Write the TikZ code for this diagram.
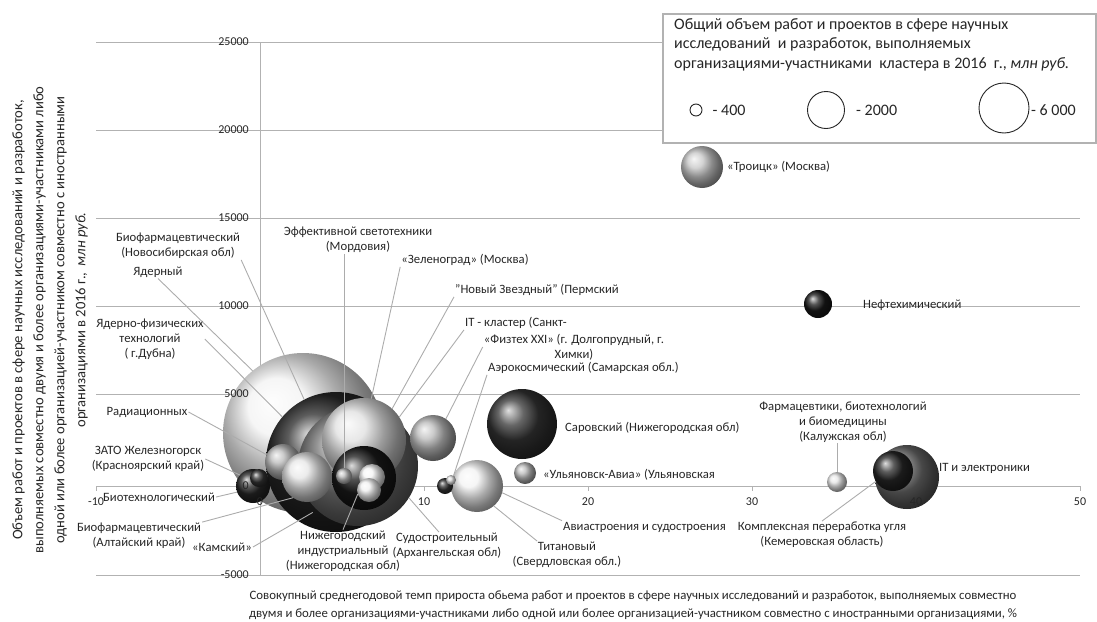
\documentclass[tikz,border=0pt]{standalone}
\usepackage{fontspec}
\setmainfont{Carlito}
\usetikzlibrary{positioning}

\begin{document}
\begin{tikzpicture}[x=1pt,y=-1pt,
    grid/.style={draw=gray!60,line width=1pt},
    bub/.style={circle,inner sep=0pt,outer sep=0pt,minimum size=#1pt},
    leader/.style={draw=gray!65,line width=0.9pt},
    lbl/.style={font=\fontsize{12.7}{14.8}\selectfont,text=black!85,inner sep=1pt,align=center},
    tick/.style={font=\fontsize{12}{14}\selectfont,text=black!85,inner sep=1pt},
    legcirc/.style={circle,draw=black!85,line width=0.9pt,inner sep=0pt,minimum size=#1pt},
    legtxt/.style={font=\fontsize{16}{19.5}\selectfont,text=black!85,inner sep=0pt,align=left}]
    \useasboundingbox (0,0) rectangle (1097,621);

    % grid and axes
    \foreach \yy in {42,130,218,306,394,575}
        \draw[grid] (96,\yy) -- (1080,\yy);
    \draw[grid] (96,486) -- (1080,486);
    \draw[grid] (260,42) -- (260,575);
    \foreach \xx in {96,260,...,1080}
        \draw[grid] (\xx,486) -- (\xx,491);

    % bubbles
    \node[bub=160,ball color=gray!10] (yadern) at (303,433) {};
    \node[bub=140,ball color=black!85] (biofnsk) at (336,462) {};
    \node[bub=120,ball color=black!55] (nizh) at (358,466) {};
    \node[bub=84,ball color=gray!25] (zel) at (364,440) {};
    \node[bub=64,ball color=black!90] (nzv) at (364,478) {};
    \node[bub=36,ball color=gray!55] (rad) at (283,462) {};
    \node[bub=50,ball color=gray!20] (altai) at (307,477) {};
    \node[bub=16,ball color=gray!50] (svet) at (344,476) {};
    \node[bub=26,ball color=gray!8] (sudo) at (372,477) {};
    \node[bub=24,ball color=gray!12] (itspb) at (369,490) {};
    \node[bub=46,ball color=gray!55] (fiz) at (433,438) {};
    \node[bub=34,ball color=black!85] (zato) at (253,486) {};
    \node[bub=18,ball color=black!80] (biotech) at (259,478) {};
    \node[bub=52,ball color=gray!10] (avia) at (477,486) {};
    \node[bub=16,ball color=black!80] (titan) at (445,486) {};
    \node[bub=10,ball color=gray!30] (aero) at (451,480) {};
    \node[bub=70,ball color=black!80] (sarov) at (522,424) {};
    \node[bub=22,ball color=gray!55] (ulyan) at (525,473) {};
    \node[bub=20,ball color=gray!20] (farm) at (837,482) {};
    \node[bub=64,ball color=black!60] (itel) at (907,477) {};
    \node[bub=40,ball color=black!85] (kompl) at (893,471) {};
    \node[bub=42,ball color=gray!45] (troick) at (702,167) {};
    \node[bub=28,ball color=black!90] (neft) at (818,304) {};

    % tick labels
    \foreach \yy/\val in {42/25000,130/20000,218/15000,306/10000,394/5000,486/0,575/-5000}
        \node[tick,anchor=east] (yt\val) at (250,\yy) {\val};
    \foreach \xx/\val in {96/-10,260/0,424/10,588/20,752/30,916/40,1080/50}
        \node[tick] (xt\val) at (\xx,502) {\val};

    % labels
    \node[lbl,anchor=west] (lTroick) at (726,167) {«Троицк» (Москва)};
    \node[lbl,anchor=west] (lNeft) at (862,305) {Нефтехимический};
    \node[lbl] (lBiofNsk) at (178,246) {Биофармацевтический\\(Новосибирская обл)};
    \node[lbl] (lYad) at (158,272) {Ядерный};
    \node[lbl] (lDubna) at (150,339) {Ядерно-физических\\технологий\\( г.Дубна)};
    \node[lbl] (lRad) at (147,412) {Радиационных};
    \node[lbl] (lZato) at (148,459) {ЗАТО Железногорск\\(Красноярский край)};
    \node[lbl] (lBiotech) at (159,497) {Биотехнологический};
    \node[lbl] (lAltai) at (139,536) {Биофармацевтический\\(Алтайский край)};
    \node[lbl] (lKam) at (222,547) {«Камский»};
    \node[lbl] (lSvet) at (358,240) {Эффективной светотехники\\(Мордовия)};
    \node[lbl] (lZel) at (465,260) {«Зеленоград» (Москва)};
    \node[lbl,anchor=west] (lNzv) at (454,290) {"Новый Звездный" (Пермский};
    \node[lbl,anchor=west] (lItSpb) at (464,323) {IT - кластер (Санкт-};
    \node[lbl] (lFiz) at (574,347) {«Физтех XXI» (г. Долгопрудный, г.\\Химки)};
    \node[lbl,anchor=west] (lAero) at (487,368) {Аэрокосмический (Самарская обл.)};
    \node[lbl,anchor=west] (lSarov) at (564,428) {Саровский (Нижегородская обл)};
    \node[lbl,anchor=west] (lUlyan) at (542,475) {«Ульяновск-Авиа» (Ульяновская};
    \node[lbl,anchor=west] (lAvia) at (562,527) {Авиастроения и судостроения};
    \node[lbl] (lTitan) at (567,555) {Титановый\\(Свердловская обл.)};
    \node[lbl] (lSudo) at (447,546) {Судостроительный\\(Архангельская обл)};
    \node[lbl] (lNizh) at (343,551) {Нижегородский\\индустриальный\\(Нижегородская обл)};
    \node[lbl] (lFarm) at (843,422) {Фармацевтики, биотехнологий\\и биомедицины\\(Калужская обл)};
    \node[lbl,anchor=west] (lItEl) at (938,468) {IT и электроники};
    \node[lbl] (lKompl) at (822,535) {Комплексная переработка угля\\(Кемеровская область)};

    % leader lines
    \draw[leader] (lBiofNsk.south east) -- (biofnsk.117);
    \draw[leader] (lYad.south) -- (yadern.129);
    \draw[leader] (lDubna.east) -- (biofnsk.140);
    \draw[leader] (lRad.east) -- (rad.156);
    \draw[leader] (lZato.east) -- (zato.140);
    \draw[leader] (lBiotech.east) -- (zato.201);
    \draw[leader] (lAltai.north east) -- (altai.236);
    \draw[leader] (lKam.east) -- (yadern.277);
    \draw[leader] (lSvet.south -| svet) -- (svet.north);
    \draw[leader] (lZel.south west) -- (zel.80);
    \draw[leader] (lNzv.south west) -- (zel.48);
    \draw[leader] (lItSpb.south west) -- (zel.33);
    \draw[leader] (lFiz.west) -- (fiz.56);
    \draw[leader] (lAero.south west) -- (aero.60);
    \draw[leader] (lAvia.north west) -- (avia.-15);
    \draw[leader] (lTitan.155) -- (avia.-50);
    \draw[leader] (lSudo.120) -- (nizh.-32);
    \draw[leader] (lNizh.north) -- (itspb.200);
    \draw[leader] (lFarm.south -| farm) -- (farm.north);
    \draw[leader] (lKompl.north) -- (kompl.211);

    % axis titles
    \node[lbl,font=\fontsize{14.6}{21}\selectfont,rotate=90] (ytitle) at (50,320)
        {Объем работ и проектов в сфере научных исследований и разработок,\\
         выполняемых совместно двумя и более организациями-участниками либо\\
         одной или более организацией-участником совместно с иностранными\\
         организациями в 2016 г.,~~\textit{млн руб.}};
    \node[lbl,font=\fontsize{12.8}{18}\selectfont] (xtitle) at (633,605)
        {Совокупный среднегодовой темп прироста обьема работ и проектов в сфере научных исследований и разработок, выполняемых совместно\\
         двумя и более организациями-участниками либо одной или более организацией-участником совместно с иностранными организациями, \%};

    % legend
    \draw[draw=gray!60,line width=1.6pt,fill=white] (663,14) rectangle (1096,143);
    \node[legtxt,anchor=north west] (legtitle) at (674,18)
        {Общий объем работ и проектов в сфере научных\\
         исследований~ и разработок, выполняемых\\
         организациями-участниками~~кластера в 2016~~г., \textit{млн руб.}};
    \node[legcirc=12] (leg400) at (696,110) {};
    \node[legtxt,right=10pt of leg400] (leg400t) {- 400};
    \node[legcirc=37] (leg2000) at (826,110) {};
    \node[legtxt,right=11pt of leg2000] (leg2000t) {- 2000};
    \node[legcirc=50] (leg6000) at (1004,108) {};
    \node[legtxt,anchor=west] (leg6000t) at (1031,110) {- 6 000};
\end{tikzpicture}
\end{document}
